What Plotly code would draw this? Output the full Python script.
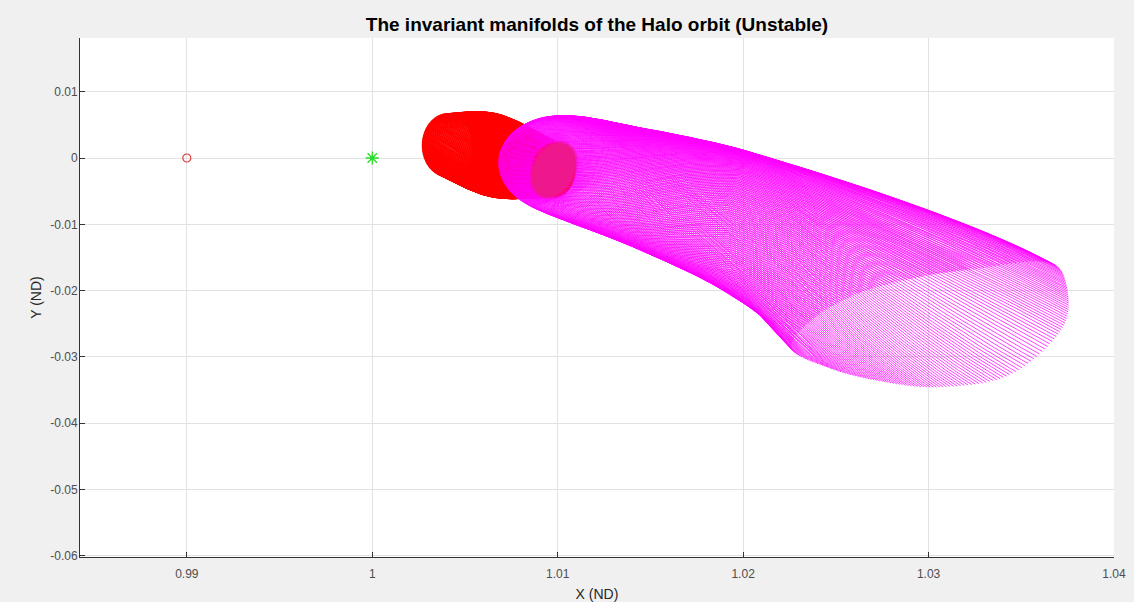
import numpy as np
import plotly.graph_objects as go

# ---- reference bodies ----
circle_x = [0.99]
circle_y = [0.0]
star_x = [1.0]
star_y = [0.0]

# ---- axes ----
x_range = [0.98424, 1.04]
y_range = [-0.06018, 0.0181]
x_ticks = [0.99, 1.0, 1.01, 1.02, 1.03, 1.04]
x_ticklabels = ["0.99", "1", "1.01", "1.02", "1.03", "1.04"]
y_ticks = [0.01, 0.0, -0.01, -0.02, -0.03, -0.04, -0.05, -0.06]
y_ticklabels = ["0.01", "0", "-0.01", "-0.02", "-0.03", "-0.04", "-0.05", "-0.06"]

# ---- exterior (magenta) unstable manifold: cross-sections ----
mag_cx = [1.00979, 1.01001, 1.01442, 1.01873, 1.02142]
mag_cy = [-0.00181, -0.00090, -0.00452, -0.00860, -0.01207]
mag_ax = [0.00118, 0.00307, 0.00188, 0.00215, 0.00242]
mag_ay = [0.0, 0.0, 0.0, -0.00090, -0.00151]
mag_bx = [0.0, 0.0, 0.0, 0.0, 0.0]
mag_by = [-0.00407, -0.00724, -0.00905, -0.01071, -0.01207]
mag_twist = [0.0, 0.3, 0.8, 1.3, 1.6]
rim_twist = 1.2
cap_slope = 0.55          # direction of the trajectories where they reach the end rim
# end rim of the magenta tube (12 points, every 30 degrees of phase)
rim_x = [1.03058, 1.02735, 1.02465, 1.02261, 1.02384, 1.02627,
         1.02950, 1.03246, 1.03639, 1.03747, 1.03715, 1.03435]
rim_y = [-0.03454, -0.03363, -0.03167, -0.02866, -0.02413, -0.02036,
         -0.01795, -0.01674, -0.01569, -0.01961, -0.02594, -0.03273]

# ---- interior (red) unstable manifold cross-sections ----
red_cx = [1.00979, 1.00661, 1.00403]
red_cy = [-0.00181, 0.00038, 0.00196]
red_ax = [0.00118, 0.00135, 0.00135]
red_ay = [0.0, 0.0, 0.0]
red_bx = [0.0, 0.0, 0.0]
red_by = [-0.00407, -0.00626, -0.00468]
red_twist = [0.0, 0.5, 1.0]

# halo orbit projection
halo_cx, halo_cy = 1.00979, -0.00181
halo_ax, halo_ay = 0.00118, 0.00045
halo_bx, halo_by = -0.00021, -0.00407

N_MAG = 240
N_RED = 220

W, H = 1134, 602
M_L, M_R, M_T, M_B = 80, 20, 38, 45
SXP = (W - M_L - M_R) / (x_range[1] - x_range[0])
SYP = (H - M_T - M_B) / (y_range[1] - y_range[0])


def cr_interp(vals, s):
    v = np.asarray(vals, float)
    n = len(v)
    k = np.clip(np.floor(s).astype(int), 0, n - 2)
    t = s - k
    p0 = v[np.clip(k - 1, 0, n - 1)]
    p1 = v[k]
    p2 = v[k + 1]
    p3 = v[np.clip(k + 2, 0, n - 1)]
    return 0.5 * (2 * p1 + (-p0 + p2) * t + (2 * p0 - 5 * p1 + 4 * p2 - p3) * t ** 2
                  + (-p0 + 3 * p1 - 3 * p2 + p3) * t ** 3)


def rim_points(rx, ry, phi):
    n = len(rx)
    u = (phi % (2 * np.pi)) / (2 * np.pi) * n
    i = np.floor(u).astype(int)
    t = u - i

    def cr(p):
        p = np.asarray(p)
        p0, p1, p2, p3 = p[(i - 1) % n], p[i % n], p[(i + 1) % n], p[(i + 2) % n]
        return 0.5 * (2 * p1 + (-p0 + p2) * t + (2 * p0 - 5 * p1 + 4 * p2 - p3) * t ** 2
                      + (-p0 + 3 * p1 - 3 * p2 + p3) * t ** 3)
    return cr(rx), cr(ry)


def tube_body(cx, cy, ax, ay, bx, by, tw, theta, s):
    n = len(ax)
    sc = np.clip(s, 0, n - 1)
    CX = cr_interp(cx, sc)
    CY = cr_interp(cy, sc)
    AX, AY = cr_interp(ax, sc), cr_interp(ay, sc)
    BX, BY = cr_interp(bx, sc), cr_interp(by, sc)
    PS = cr_interp(tw, sc)
    phi = theta[:, None] + PS[None, :]
    X = CX + AX * np.cos(phi) + BX * np.sin(phi)
    Y = CY + AY * np.cos(phi) + BY * np.sin(phi)
    return X, Y


def flatten(X, Y):
    X = np.hstack([X, np.full((X.shape[0], 1), np.nan)])
    Y = np.hstack([Y, np.full((Y.shape[0], 1), np.nan)])
    return X.ravel(), Y.ravel()


# ---- magenta tube: body ----
theta = np.linspace(0, 2 * np.pi, N_MAG, endpoint=False)
nb = len(mag_cx) - 1
args = (mag_cx, mag_cy, mag_ax, mag_ay, mag_bx, mag_by, mag_twist, theta)
s_body = np.linspace(0, nb, 40 * nb + 1)
BX_, BY_ = tube_body(*args, s_body)

# ---- magenta tube: last stretch to the end rim (Hermite, in screen-proportional units) ----
hs = 1e-3
EX, EY = tube_body(*args, np.array([nb - hs, nb]))
p0u, p0v = EX[:, 1] * SXP, -EY[:, 1] * SYP
t0u, t0v = (EX[:, 1] - EX[:, 0]) / hs * SXP, -(EY[:, 1] - EY[:, 0]) / hs * SYP
rx, ry = rim_points(rim_x, rim_y, theta + rim_twist)
p1u, p1v = rx * SXP, -ry * SYP
du, dv = p1u - p0u, p1v - p0v
chord = np.hypot(du, dv)
cdu, cdv = du / chord, dv / chord
dn = np.hypot(1.0, cap_slope)
w = np.clip((1.2 - np.abs(dv / np.maximum(np.abs(du), 1e-9))) / 0.6, 0, 1)
eu = w / dn + (1 - w) * cdu
ev = w * cap_slope / dn + (1 - w) * cdv
en = np.hypot(eu, ev)
t1u, t1v = chord * eu / en, chord * ev / en

t = np.linspace(0, 1, 81)[1:][None, :]
h00 = 2 * t ** 3 - 3 * t ** 2 + 1
h10 = t ** 3 - 2 * t ** 2 + t
h01 = -2 * t ** 3 + 3 * t ** 2
h11 = t ** 3 - t ** 2
LU = h00 * p0u[:, None] + h10 * t0u[:, None] + h01 * p1u[:, None] + h11 * t1u[:, None]
LV = h00 * p0v[:, None] + h10 * t0v[:, None] + h01 * p1v[:, None] + h11 * t1v[:, None]
LX, LY = LU / SXP, -LV / SYP
mag_X, mag_Y = flatten(np.hstack([BX_, LX]), np.hstack([BY_, LY]))

# ---- red tube ----
theta_r = np.linspace(0, 2 * np.pi, N_RED, endpoint=False)
s_red = np.linspace(0, len(red_cx) - 1, 61)
RX, RY = tube_body(red_cx, red_cy, red_ax, red_ay, red_bx, red_by, red_twist, theta_r, s_red)
red_X, red_Y = flatten(RX, RY)

# ---- halo orbit ----
ph = np.linspace(0, 2 * np.pi, 120)
halo_X = halo_cx + halo_ax * np.cos(ph) + halo_bx * np.sin(ph)
halo_Y = halo_cy + halo_ay * np.cos(ph) + halo_by * np.sin(ph)

fig = go.Figure()
fig.add_trace(go.Scatter(x=red_X, y=red_Y, mode="lines",
                         line=dict(color="#FF0000", width=1.5), hoverinfo="skip"))
fig.add_trace(go.Scatter(x=mag_X, y=mag_Y, mode="lines",
                         line=dict(color="#FF00FF", width=0.75), hoverinfo="skip"))
fig.add_trace(go.Scatter(x=halo_X, y=halo_Y, mode="lines", fill="toself",
                         fillcolor="rgb(238,24,140)", line=dict(width=4, color="rgba(242,20,150,0.5)"),
                         hoverinfo="skip"))
fig.add_trace(go.Scatter(x=circle_x, y=circle_y, mode="markers",
                         marker=dict(symbol="circle-open", size=8, color="#E03C3C", line=dict(width=1.2))))
fig.add_trace(go.Scatter(x=star_x, y=star_y, mode="markers",
                         marker=dict(symbol="asterisk-open", size=11, color="#22DD22", line=dict(width=1.3))))

FONT = "Liberation Sans, Arial, sans-serif"
axis_font = dict(family=FONT, size=12, color="#4D4D4D")
common = dict(showgrid=True, gridcolor="#E2E2E2", gridwidth=1, zeroline=False,
              showline=True, linecolor="#333333", linewidth=1, mirror=False,
              ticks="inside", ticklen=5, tickcolor="#333333", tickfont=axis_font,
              automargin=False)
fig.update_layout(
    width=W, height=H,
    paper_bgcolor="#F0F0F0", plot_bgcolor="#FFFFFF",
    margin=dict(l=M_L, r=M_R, t=M_T, b=M_B),
    showlegend=False,
    title=dict(text="<b>The invariant manifolds of the Halo orbit (Unstable)</b>",
               x=0.5, xref="paper", xanchor="center", y=1 - 24 / 602, yref="container", yanchor="middle",
               font=dict(family=FONT, size=19, color="#000000")),
    xaxis=dict(range=x_range, tickvals=x_ticks, ticktext=x_ticklabels,
               ticklabelstandoff=6,
               title=dict(text="X (ND)", standoff=8, font=dict(family=FONT, size=14, color="#262626")),
               **common),
    yaxis=dict(range=y_range, tickvals=y_ticks, ticktext=y_ticklabels,
               ticklabelstandoff=-1,
               title=dict(text="Y (ND)", standoff=5, font=dict(family=FONT, size=14, color="#262626")),
               **common),
)

fig.write_html("out.html", config={"displayModeBar": False},
               post_script="document.body.style.margin='0';")
